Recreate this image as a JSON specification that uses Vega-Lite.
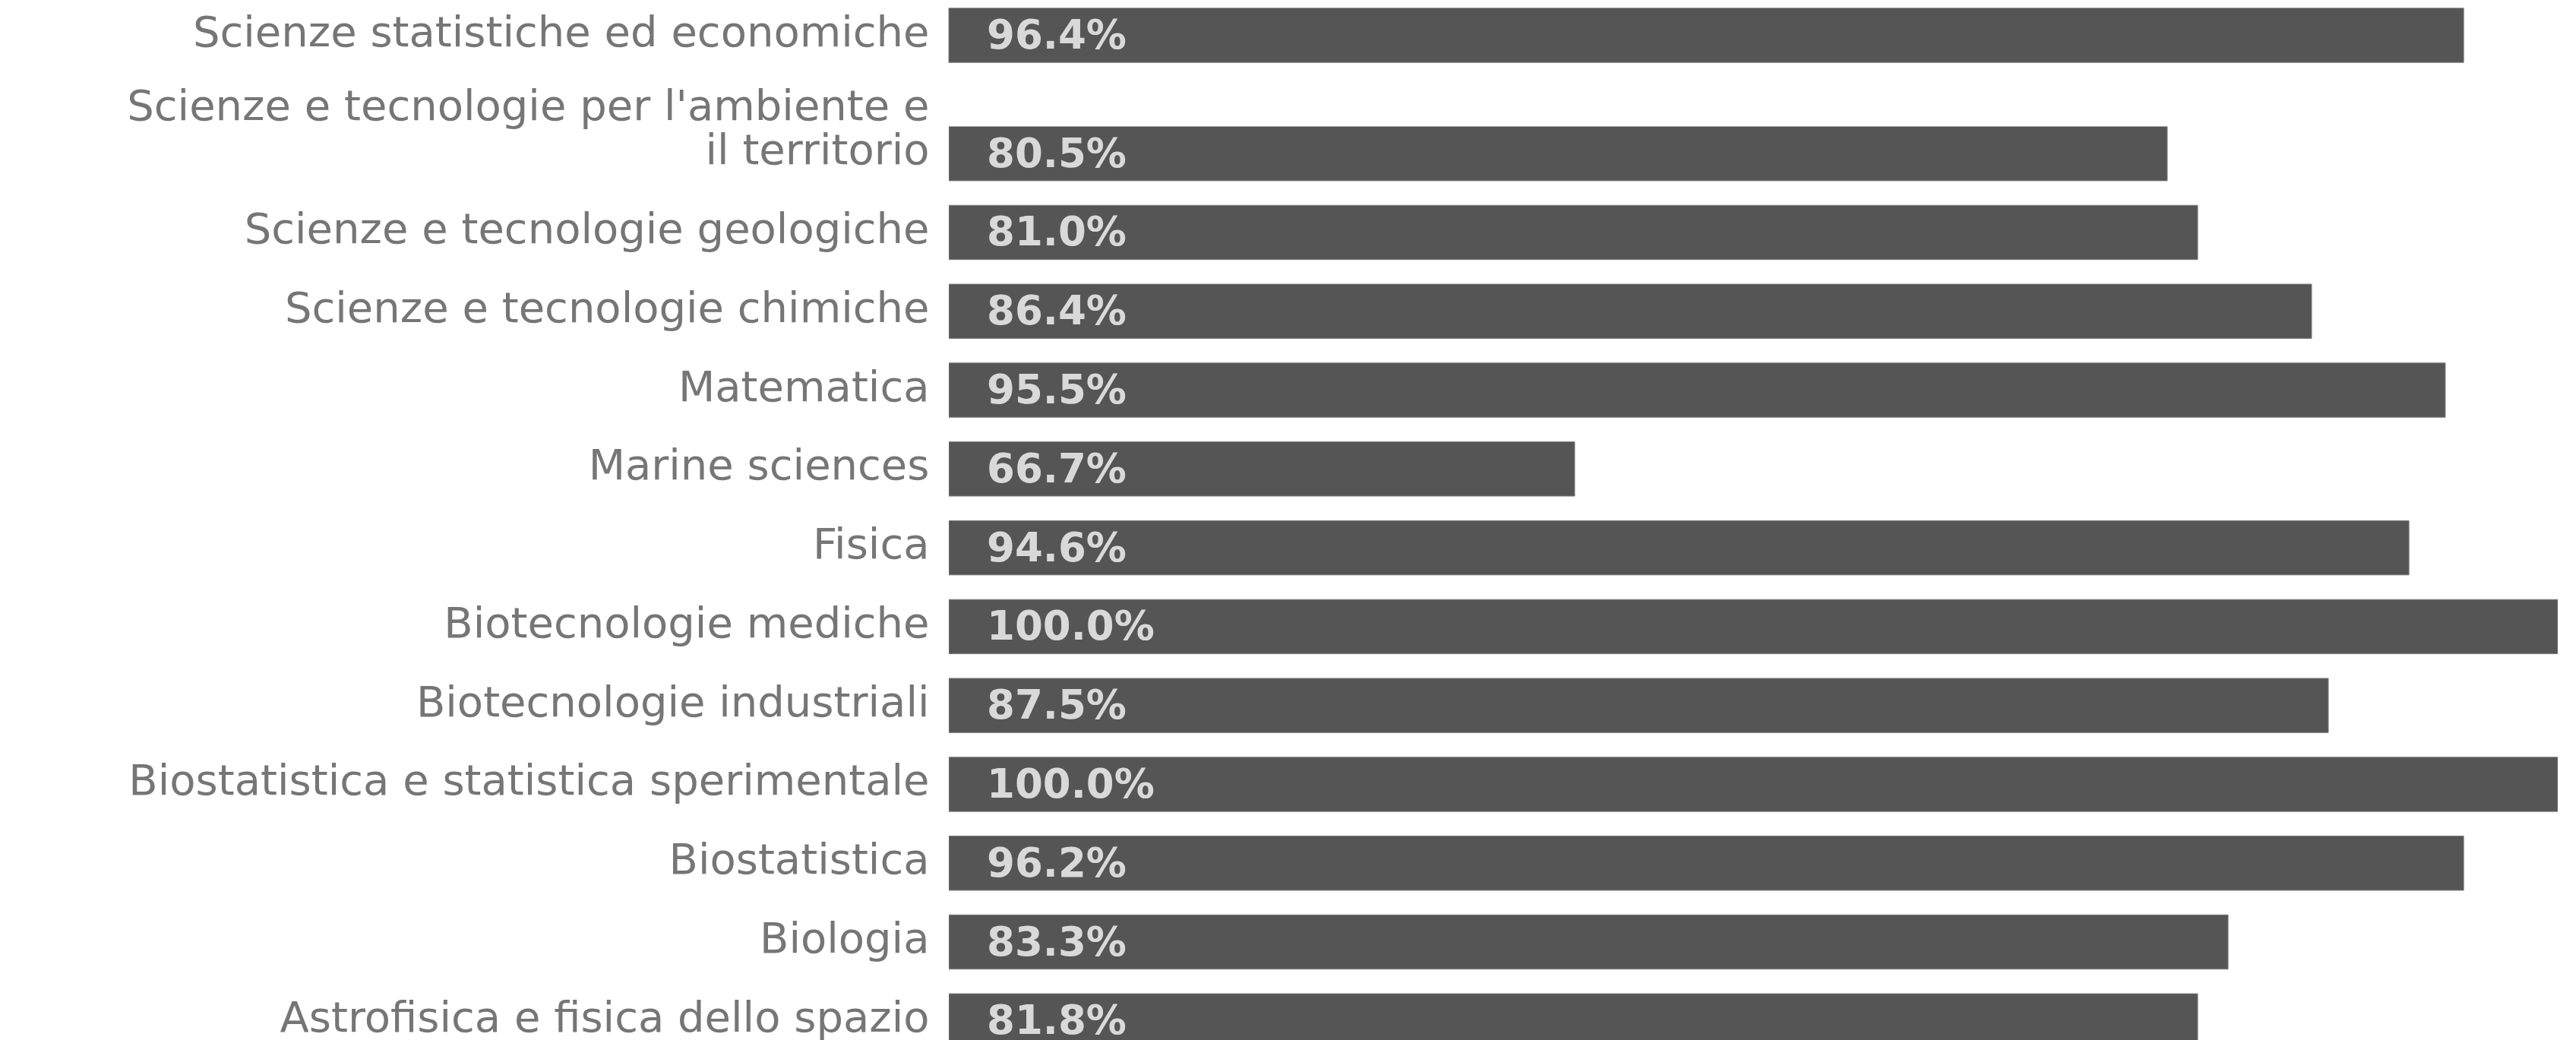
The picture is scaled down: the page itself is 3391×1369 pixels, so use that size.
{
  "$schema": "https://vega.github.io/schema/vega-lite/v6.json",
  "background": "#ffffff",
  "padding": {"left": 166, "top": 0, "right": 0, "bottom": 0},
  "spacing": 19.5,
  "datasets": {
    "corsi": [
      {"corso": "Scienze statistiche ed economiche", "lunghezza": 94.15, "pct": 96.4},
      {"corso": "Scienze e tecnologie per l'ambiente e il territorio", "lunghezza": 75.73, "pct": 80.5},
      {"corso": "Scienze e tecnologie geologiche", "lunghezza": 77.62, "pct": 81.0},
      {"corso": "Scienze e tecnologie chimiche", "lunghezza": 84.70, "pct": 86.4},
      {"corso": "Matematica", "lunghezza": 93.01, "pct": 95.5},
      {"corso": "Marine sciences", "lunghezza": 38.90, "pct": 66.7},
      {"corso": "Fisica", "lunghezza": 90.75, "pct": 94.6},
      {"corso": "Biotecnologie mediche", "lunghezza": 100, "pct": 100.0},
      {"corso": "Biotecnologie industriali", "lunghezza": 85.74, "pct": 87.5},
      {"corso": "Biostatistica e statistica sperimentale", "lunghezza": 100, "pct": 100.0},
      {"corso": "Biostatistica", "lunghezza": 94.15, "pct": 96.2},
      {"corso": "Biologia", "lunghezza": 79.51, "pct": 83.3},
      {"corso": "Astrofisica e fisica dello spazio", "lunghezza": 77.62, "pct": 81.8}
    ]
  },
  "vconcat": [
    {
      "data": {"name": "corsi"},
      "transform": [
        {"filter": "datum.corso == 'Scienze statistiche ed economiche'"},
        {"calculate": "format(datum.pct, '.1f') + '%'", "as": "etichetta"}
      ],
      "width": 2118,
      "height": 93,
      "encoding": {
        "y": {
          "field": "corso", "type": "nominal", "sort": null,
          "scale": {"paddingInner": 0.312, "paddingOuter": 0.104},
          "axis": {"title": null}
        }
      },
      "layer": [
        {
          "mark": {"type": "bar", "color": "#555555", "stroke": "#7a7a7a", "strokeWidth": 1},
          "encoding": {
            "x": {"field": "lunghezza", "type": "quantitative", "scale": {"domain": [0, 100], "nice": false}, "axis": null}
          }
        },
        {
          "mark": {"type": "text", "align": "left", "baseline": "middle", "dx": 50, "dy": 1.5, "font": "DejaVu Sans", "fontWeight": "bold", "fontSize": 53, "color": "#d9d9d9"},
          "encoding": {
            "x": {"datum": 0, "type": "quantitative"},
            "text": {"field": "etichetta"}
          }
        }
      ]
    },
    {
      "data": {"name": "corsi"},
      "transform": [
        {"filter": "datum.corso != 'Scienze statistiche ed economiche'"},
        {"calculate": "format(datum.pct, '.1f') + '%'", "as": "etichetta"}
      ],
      "width": 2118,
      "height": 1202.5,
      "encoding": {
        "y": {
          "field": "corso", "type": "nominal", "sort": null,
          "scale": {"paddingInner": 0.312, "paddingOuter": 0, "range": [0, 1213]},
          "axis": {
            "title": null,
            "labelExpr": "datum.label == \"Scienze e tecnologie per l'ambiente e il territorio\" ? [\"Scienze e tecnologie per l'ambiente e\", \"il territorio\"] : datum.label",
            "labelOffset": {
              "condition": {"test": "datum.value == \"Scienze e tecnologie per l'ambiente e il territorio\"", "value": -32},
              "value": 26
            }
          }
        }
      },
      "layer": [
        {
          "mark": {"type": "bar", "color": "#555555", "stroke": "#7a7a7a", "strokeWidth": 1, "clip": true},
          "encoding": {
            "x": {"field": "lunghezza", "type": "quantitative", "scale": {"domain": [0, 100], "nice": false}, "axis": null}
          }
        },
        {
          "mark": {"type": "text", "align": "left", "baseline": "middle", "dx": 50, "dy": 1.5, "font": "DejaVu Sans", "fontWeight": "bold", "fontSize": 53, "color": "#d9d9d9", "clip": true},
          "encoding": {
            "x": {"datum": 0, "type": "quantitative"},
            "text": {"field": "etichetta"}
          }
        }
      ]
    }
  ],
  "config": {
    "view": {"stroke": null},
    "axisY": {
      "domain": false,
      "ticks": false,
      "tickSize": 0,
      "grid": false,
      "labelFont": "DejaVu Sans",
      "labelFontSize": 56,
      "labelColor": "#767676",
      "labelPadding": 26,
      "labelBaseline": "bottom",
      "labelOffset": 26,
      "labelLineHeight": 58,
      "labelLimit": 0
    }
  }
}
